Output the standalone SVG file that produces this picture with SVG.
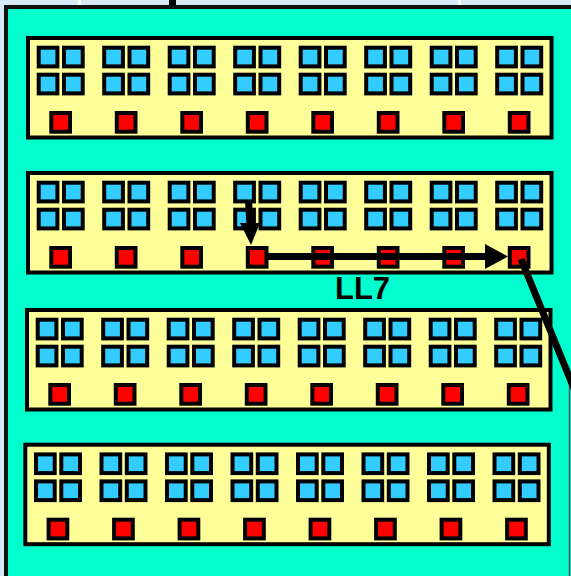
<svg xmlns="http://www.w3.org/2000/svg" xmlns:xlink="http://www.w3.org/1999/xlink" width="571" height="576" viewBox="0 0 571 576">
<style>
.panel{fill:#ffff99;stroke:#000;stroke-width:4}
.b{fill:#33ccff;stroke:#000;stroke-width:4}
.r{fill:#ff0000;stroke:#000;stroke-width:4}
.conn{stroke:#000;fill:none;stroke-width:7}
.head{fill:#000}
.lbl{font-family:"Liberation Sans",Arial,sans-serif;font-weight:bold;font-size:31px;fill:#000}
</style>
<defs>
<g id="cell">
<rect class="b" x="10.7" y="9.7" width="18.7" height="18.7"/>
<rect class="b" x="36" y="9.7" width="18.7" height="18.7"/>
<rect class="b" x="10.7" y="36.7" width="18.7" height="18.7"/>
<rect class="b" x="36" y="36.7" width="18.7" height="18.7"/>
<rect class="r" x="23.3" y="75" width="18.7" height="18.7"/>
</g>
<g id="panelContent">
<rect class="panel" x="0" y="0" width="523.5" height="99.5"/>
<use xlink:href="#cell" x="0"/>
<use xlink:href="#cell" x="65.5"/>
<use xlink:href="#cell" x="131"/>
<use xlink:href="#cell" x="196.5"/>
<use xlink:href="#cell" x="262"/>
<use xlink:href="#cell" x="327.5"/>
<use xlink:href="#cell" x="393"/>
<use xlink:href="#cell" x="458.5"/>
</g>
</defs>
<rect x="0" y="0" width="571" height="576" fill="#d6e9f5"/>
<rect x="78" y="0" width="3" height="6" fill="#ffffff"/>
<rect x="458" y="0" width="3" height="6" fill="#ffffff"/>
<rect x="169" y="0" width="7" height="8" fill="#000"/>
<g id="frame">
<rect x="6" y="7" width="620" height="620" fill="#00ffcc" stroke="#111" stroke-width="4"/>
<line x1="569.5" y1="380" x2="569.5" y2="576" stroke="#555" stroke-width="1.5"/>
</g>
<g id="panel1" transform="translate(28,38)"><use xlink:href="#panelContent"/></g>
<g id="panel2" transform="translate(28,173)"><use xlink:href="#panelContent"/></g>
<g id="panel3" transform="translate(27,310)"><use xlink:href="#panelContent"/></g>
<g id="panel4" transform="translate(25.3,444.7)"><use xlink:href="#panelContent"/></g>
<g id="connectors">
<line class="conn" x1="248.5" y1="200" x2="250" y2="226" stroke-width="8"/>
<polygon class="head" points="240,223 260,223 251,245"/>
<line class="conn" x1="268" y1="256.5" x2="490" y2="256.5" stroke-width="8"/>
<polygon class="head" points="485,244 508,256.5 485,269"/>
<line class="conn" x1="521" y1="259" x2="582" y2="408"/>
</g>
<text class="lbl" x="335" y="299">LL7</text>
</svg>
